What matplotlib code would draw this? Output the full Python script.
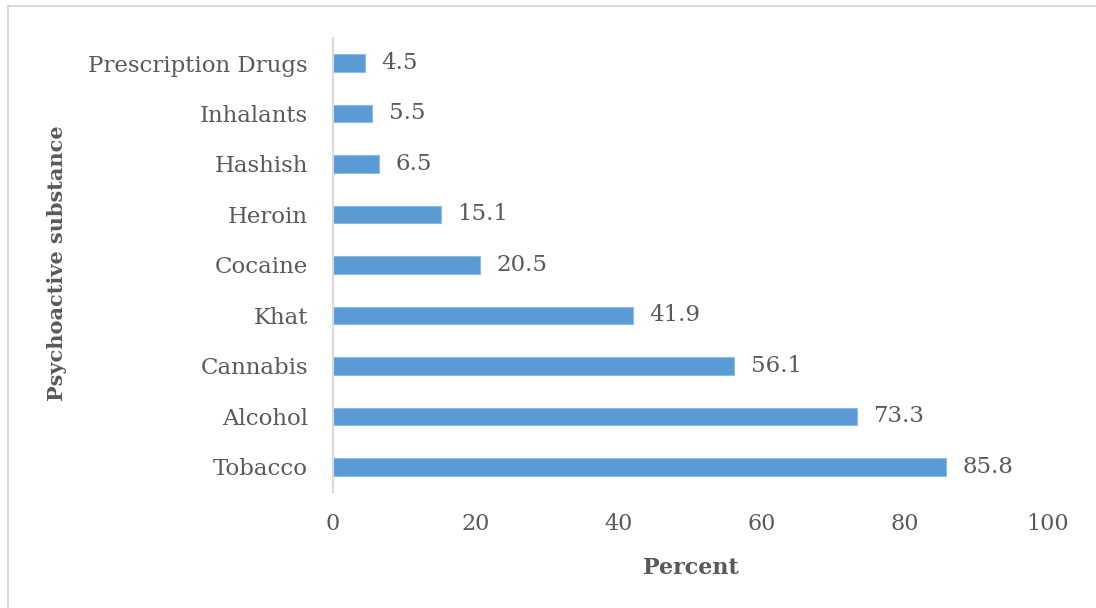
import matplotlib.pyplot as plt
from matplotlib.lines import Line2D

substances = ["Tobacco", "Alcohol", "Cannabis", "Khat", "Cocaine",
              "Heroin", "Hashish", "Inhalants", "Prescription Drugs"]
percent = [85.8, 73.3, 56.1, 41.9, 20.5, 15.1, 6.5, 5.5, 4.5]
xticks = [0, 20, 40, 60, 80, 100]

txt = "#595959"
plt.rcParams['font.family'] = ['DejaVu Serif']

fig = plt.figure(figsize=(10.96, 6.08), dpi=100)
ax = fig.add_axes([0.3038, 0.1905, 0.6524, 0.7474])

ypos = range(len(substances))
ax.barh(ypos, percent, height=0.34, color="#5B9BD5", edgecolor="#8fbce6", linewidth=0.8)
for y, v in zip(ypos, percent):
    ax.text(v + 2.3, y, f"{v:.1f}", va="center", ha="left", fontsize=16.5, color=txt)

ax.set_xlim(0, 100)
ax.set_ylim(-0.5, len(substances) - 0.5)
ax.set_xticks(xticks)
ax.set_yticks(list(ypos))
ax.set_yticklabels(substances)
ax.tick_params(axis="both", length=0, colors=txt)
ax.tick_params(axis="x", pad=15, labelsize=16)
ax.tick_params(axis="y", pad=18, labelsize=16.5)

for s in ["top", "right", "bottom"]:
    ax.spines[s].set_visible(False)
ax.spines["left"].set_color("#d9d9d9")
ax.spines["left"].set_linewidth(1.5)

ax.set_xlabel("Percent", fontsize=16, fontweight="bold", color=txt, labelpad=16)
fig.text(0.052, 0.567, "Psychoactive substance", rotation=90, fontsize=15,
         fontweight="bold", color=txt, ha="center", va="center")

# thin frame along the top and left edges
fig.add_artist(Line2D([0.0073, 1.0], [0.990, 0.990], color="#d9d9d9", lw=1.5))
fig.add_artist(Line2D([0.0073, 0.0073], [0.0, 0.990], color="#d9d9d9", lw=1.5))

fig.savefig("out.png", dpi=100)
